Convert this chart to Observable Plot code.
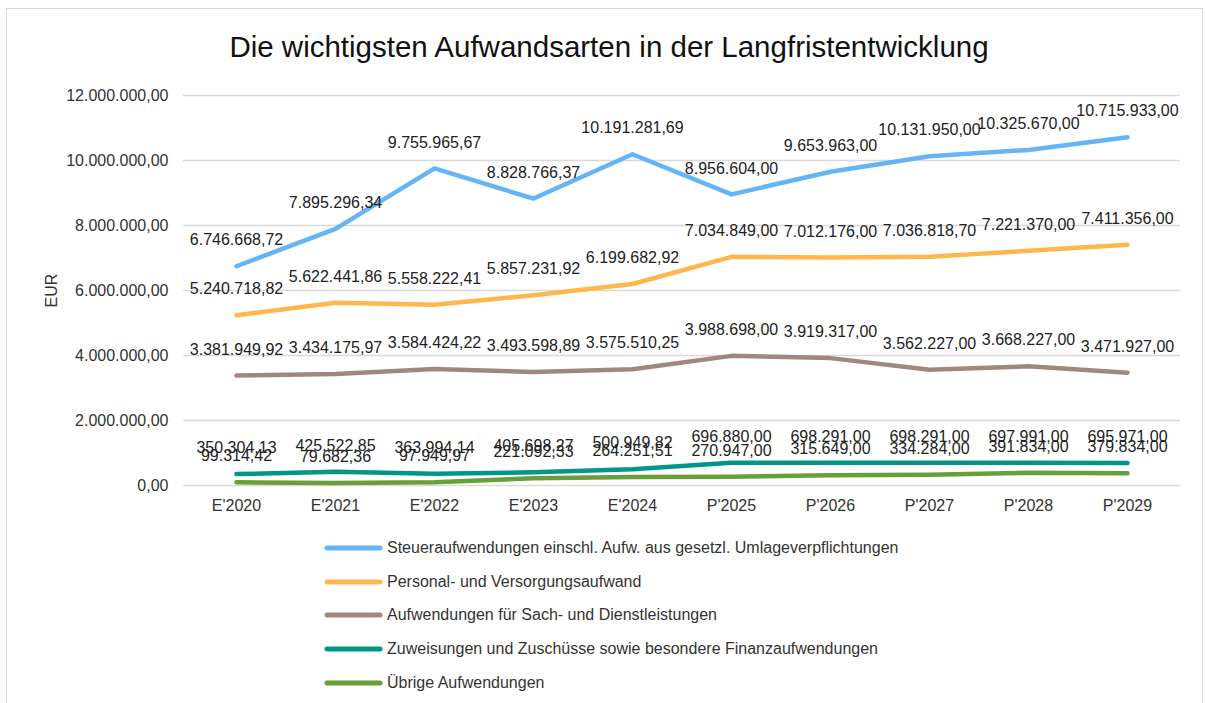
<!DOCTYPE html>
<html>
<head>
<meta charset="utf-8">
<script src="https://cdn.jsdelivr.net/npm/d3@7"></script>
<script src="https://cdn.jsdelivr.net/npm/@observablehq/plot@0.6"></script>
<style>
  html, body { margin: 0; padding: 0; background: #fff; overflow: hidden; }
  #wrap { position: relative; width: 1206px; height: 703px; font-family: "Liberation Sans", Arial, sans-serif; }
  #frame { position: absolute; left: 6px; top: 8px; width: 1197px; height: 720px; border: 1px solid #d9d9d9; box-sizing: border-box; }
  #title { position: absolute; left: 6px; width: 1206px; top: 29px; text-align: center; font-size: 29.5px; line-height: 36px; color: #111; }
  #chart { position: absolute; left: 0; top: 70px; }
  #legend { position: absolute; left: 324px; top: 531px; font-size: 16px; color: #333; }
  .row { display: flex; align-items: center; height: 33.7px; }
  .row svg { margin-right: 3px; }
</style>
</head>
<body>
<div id="wrap">
  <div id="frame"></div>
  <div id="title">Die wichtigsten Aufwandsarten in der Langfristentwicklung</div>
  <div id="chart"></div>
  <div id="legend"></div>
</div>
<script>
const categories = ["E'2020", "E'2021", "E'2022", "E'2023", "E'2024", "P'2025", "P'2026", "P'2027", "P'2028", "P'2029"];
const seriesNames = [
  "Steueraufwendungen einschl. Aufw. aus gesetzl. Umlageverpflichtungen",
  "Personal- und Versorgungsaufwand",
  "Aufwendungen für Sach- und Dienstleistungen",
  "Zuweisungen und Zuschüsse sowie besondere Finanzaufwendungen",
  "Übrige Aufwendungen"
];
const steuer = [6746668.72, 7895296.34, 9755965.67, 8828766.37, 10191281.69, 8956604.00, 9653963.00, 10131950.00, 10325670.00, 10715933.00];
const personal = [5240718.82, 5622441.86, 5558222.41, 5857231.92, 6199682.92, 7034849.00, 7012176.00, 7036818.70, 7221370.00, 7411356.00];
const sach = [3381949.92, 3434175.97, 3584424.22, 3493598.89, 3575510.25, 3988698.00, 3919317.00, 3562227.00, 3668227.00, 3471927.00];
const zuweisungen = [350304.13, 425522.85, 363994.14, 405698.27, 500949.82, 696880.00, 698291.00, 698291.00, 697991.00, 695971.00];
const uebrige = [99314.42, 79682.36, 97949.97, 221092.33, 264251.51, 270947.00, 315649.00, 334284.00, 391834.00, 379834.00];
const yTicks = [0, 2000000, 4000000, 6000000, 8000000, 10000000, 12000000];
const colors = ["#64B5F6", "#FFB74D", "#A1887F", "#009688", "#689F38"];

const seriesValues = [steuer, personal, sach, zuweisungen, uebrige];
const data = seriesNames.flatMap((s, i) => seriesValues[i].map((v, j) => ({series: s, cat: categories[j], value: v})));

const de = d3.formatLocale({decimal: ",", thousands: ".", grouping: [3], currency: ["", " €"]});
const fmt = de.format(",.2f");

const chart = Plot.plot({
  width: 1206,
  height: 460,
  marginLeft: 183,
  marginRight: 26,
  marginTop: 25,
  marginBottom: 45,
  style: {fontFamily: "'Liberation Sans', Arial, sans-serif", fontSize: "16px", color: "#333", background: "transparent"},
  x: {type: "point", domain: categories, padding: 0.5},
  y: {domain: [0, 12000000]},
  color: {domain: seriesNames, range: colors},
  marks: [
    Plot.gridY(yTicks, {stroke: "#d9d9d9", strokeOpacity: 1, strokeWidth: 1.3}),
    Plot.axisY(yTicks, {tickSize: 0, tickPadding: 15, tickFormat: fmt, label: "EUR", labelAnchor: "center", labelOffset: 138, labelArrow: "none", fill: "#333"}),
    Plot.axisX({tickSize: 0, tickPadding: 14, label: null, fill: "#333"}),
    Plot.lineY(data, {x: "cat", y: "value", z: "series", stroke: "series", strokeWidth: 4.5, strokeLinecap: "round", strokeLinejoin: "round"}),
    Plot.text(data, {x: "cat", y: "value", text: d => fmt(d.value), dy: -26, fill: "#222", fontSize: 16})
  ]
});
document.getElementById("chart").appendChild(chart);

const legend = document.getElementById("legend");
seriesNames.forEach((name, i) => {
  const row = document.createElement("div");
  row.className = "row";
  row.innerHTML = `<svg width="60" height="10"><line x1="3" y1="5" x2="56" y2="5" stroke="${colors[i]}" stroke-width="5" stroke-linecap="round"/></svg><span>${name}</span>`;
  legend.appendChild(row);
});
</script>
</body>
</html>
